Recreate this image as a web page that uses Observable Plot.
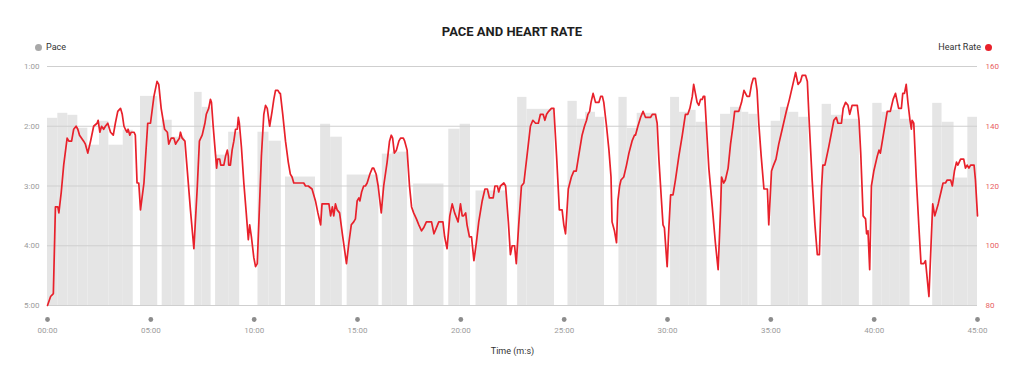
<!DOCTYPE html>
<html>
<head>
<meta charset="utf-8">
<script src="https://cdn.jsdelivr.net/npm/d3@7"></script>
<script src="https://cdn.jsdelivr.net/npm/@observablehq/plot@0.6"></script>
<style>
  body { margin: 0; background: #fff; font-family: Roboto, "Noto Sans", "DejaVu Sans", sans-serif; }
  #chart { position: relative; width: 1024px; height: 378px; overflow: hidden; }
  .title { position: absolute; top: 24px; left: 0; width: 1024px; text-align: center;
           font-size: 13px; font-weight: 700; color: #1e1e1e; line-height: 16px; }
  .legend { position: absolute; top: 41px; font-size: 9px; color: #333; line-height: 12px;
            display: flex; align-items: center; gap: 4px; }
  .legend .dot { width: 7px; height: 7px; border-radius: 50%; display: inline-block; }
  #chart svg { position: absolute; top: 56px; left: 0; }
</style>
</head>
<body>
<div id="chart">
  <div class="title">PACE AND HEART RATE</div>
  <div class="legend" style="left:35px"><span class="dot" style="background:#a8a8a8"></span>Pace</div>
  <div class="legend" style="right:32px">Heart Rate<span class="dot" style="background:#e8212b"></span></div>
</div>
<script>
// Pace per sample interval (seconds from start, pace in seconds per unit)
const barStart = [0, 30, 59, 88, 117, 151, 178, 220, 270, 333, 362, 427, 449, 488, 526, 611, 643, 691,
  793, 822, 870, 972, 1001, 1063, 1165, 1198, 1244, 1365, 1392, 1511, 1538, 1562, 1591,
  1659, 1683, 1712, 1809, 1835, 1862, 1883, 1954, 1983, 2016, 2036, 2101, 2128, 2152, 2181,
  2249, 2276, 2307, 2396, 2423, 2447, 2476, 2570, 2597, 2632, 2672];
const barEnd = [30, 59, 88, 117, 151, 178, 220, 249, 320, 362, 399, 449, 475, 526, 558, 643, 679, 778,
  822, 856, 962, 1001, 1045, 1151, 1198, 1228, 1335, 1392, 1472, 1538, 1562, 1591, 1617,
  1683, 1712, 1770, 1835, 1862, 1883, 1915, 1983, 2016, 2036, 2062, 2128, 2152, 2181, 2209,
  2276, 2307, 2357, 2423, 2447, 2476, 2504, 2597, 2632, 2672, 2700];
const barPace = [112, 107, 109, 122, 139, 115, 139, 124, 90, 114, 131, 86, 101, 149, 126, 126, 135, 171,
  118, 131, 169, 148, 146, 178, 123, 118, 185, 91, 103, 95, 113, 106, 111,
  91, 122, 107, 91, 106, 104, 116, 108, 101, 106, 108, 115, 101, 106, 111,
  98, 109, 113, 97, 106, 104, 113, 97, 116, 172, 111];

// Heart rate samples (seconds from start, bpm)
const hrTime = [0, 9, 17, 23, 30, 33, 40, 47, 57, 62, 70, 76, 83, 88, 93, 99, 105, 110, 117, 125, 134, 144, 147,
  152, 157, 163, 168, 175, 183, 191, 197, 204, 212, 217, 222, 226, 231, 234, 239, 243, 251, 255, 260, 265,
  270, 280, 291, 299, 309, 318, 323, 330, 340, 348, 352, 359, 367, 372, 377, 383, 386, 391, 399, 406, 415,
  425, 435, 441, 449, 457, 461, 468, 473, 476, 481, 486, 491, 494, 500, 503, 512, 517, 522, 525, 526, 531,
  536, 541, 546, 551, 554, 557, 563, 570, 577, 583, 587, 592, 599, 604, 609, 615, 621, 628, 633, 638, 645,
  652, 657, 662, 669, 674, 676, 683, 691, 699, 705, 710, 715, 737, 744, 749, 757, 768, 778, 785, 793, 797,
  802, 807, 817, 822, 827, 831, 836, 841, 848, 856, 862, 868, 875, 882, 889, 894, 899, 904, 907, 912, 918,
  923, 928, 936, 943, 947, 954, 960, 969, 976, 986, 993, 998, 1002, 1007, 1013, 1020, 1025, 1033, 1037,
  1044, 1051, 1057, 1063, 1071, 1078, 1086, 1092, 1100, 1115, 1122, 1129, 1136, 1143, 1148, 1153, 1160,
  1168, 1175, 1182, 1192, 1199, 1204, 1208, 1214, 1218, 1225, 1231, 1238, 1245, 1252, 1262, 1270, 1277,
  1283, 1294, 1299, 1306, 1310, 1315, 1325, 1330, 1338, 1344, 1349, 1356, 1361, 1368, 1376, 1383, 1393,
  1402, 1409, 1417, 1425, 1431, 1439, 1444, 1449, 1455, 1463, 1470, 1478, 1486, 1494, 1499, 1504, 1512,
  1521, 1528, 1535, 1542, 1552, 1559, 1565, 1569, 1574, 1578, 1584, 1591, 1601, 1606, 1611, 1615, 1623,
  1630, 1636, 1639, 1646, 1652, 1656, 1661, 1665, 1673, 1681, 1688, 1697, 1704, 1707, 1714, 1722, 1729,
  1736, 1751, 1756, 1765, 1770, 1775, 1782, 1787, 1791, 1799, 1804, 1809, 1816, 1823, 1833, 1843, 1852,
  1859, 1865, 1872, 1876, 1881, 1886, 1891, 1896, 1901, 1904, 1908, 1913, 1920, 1930, 1939, 1947, 1954,
  1957, 1963, 1968, 1976, 1983, 1990, 1995, 2007, 2015, 2022, 2031, 2038, 2044, 2049, 2055, 2060, 2065,
  2072, 2080, 2090, 2094, 2102, 2108, 2115, 2123, 2133, 2145, 2154, 2164, 2172, 2179, 2186, 2191, 2201,
  2206, 2212, 2220, 2228, 2235, 2241, 2247, 2251, 2257, 2268, 2283, 2290, 2295, 2305, 2310, 2317, 2324,
  2329, 2336, 2346, 2351, 2356, 2361, 2368, 2375, 2378, 2382, 2387, 2392, 2399, 2409, 2414, 2418, 2428,
  2438, 2447, 2455, 2462, 2471, 2479, 2483, 2488, 2493, 2498, 2504, 2508, 2510, 2515, 2522, 2530, 2536,
  2544, 2549, 2559, 2565, 2570, 2576, 2586, 2596, 2600, 2607, 2612, 2622, 2627, 2633, 2639, 2643, 2651,
  2660, 2665, 2670, 2675, 2680, 2690, 2694, 2700];
const hrBpm = [80, 83, 84, 113, 113, 111, 118, 127, 136, 135, 135, 139, 140, 139, 137, 136, 135, 134, 131, 135, 140, 141, 142,
  138, 140, 139, 140, 141, 138, 137, 141, 145, 146, 144, 140, 139, 138, 139, 137, 138, 138, 137, 121, 121,
  112, 121, 141, 141, 150, 155, 154, 146, 139, 138, 134, 136, 136, 134, 135, 136, 138, 136, 135, 125, 112,
  99, 120, 135, 137, 141, 144, 146, 149, 148, 140, 133, 126, 129, 129, 127, 127, 130, 132, 130, 127, 127,
  132, 135, 139, 139, 143, 141, 133, 121, 111, 102, 107, 103, 96, 93, 94, 112, 130, 144, 147, 146, 140,
  145, 149, 152, 152, 151, 151, 144, 135, 128, 124, 123, 121, 121, 121, 120, 120, 119, 115, 111, 107, 114,
  114, 114, 114, 110, 113, 110, 114, 112, 111, 104, 99, 94, 101, 107, 108, 109, 115, 116, 115, 118, 120,
  120, 121, 124, 126, 126, 124, 120, 111, 120, 128, 135, 137, 136, 131, 132, 135, 136, 136, 135,
  132, 120, 113, 111, 109, 107, 105, 106, 108, 108, 104, 106, 108, 108, 108, 103, 99,
  110, 114, 111, 108, 114, 110, 110, 111, 107, 103, 103, 95, 101, 108, 115, 119, 119,
  116, 116, 120, 120, 118, 120, 121, 120, 108, 97, 100, 100, 94, 107, 120, 121, 131,
  140, 142, 141, 141, 144, 144, 142, 144, 145, 146, 146, 130, 112, 112, 107, 104, 119,
  123, 125, 125, 130, 137, 140, 142, 144, 145, 148, 151, 148, 148, 150, 150, 148, 140,
  132, 123, 108, 105, 101, 115, 120, 122, 123, 127, 131, 135, 137, 137, 140, 143, 145,
  143, 143, 144, 144, 141, 129, 116, 107, 106, 93, 106, 117, 117, 122, 130, 137, 144,
  144, 146, 150, 154, 151, 148, 147, 149, 149, 150, 150, 140, 126, 113, 101, 92, 112,
  123, 121, 122, 126, 134, 140, 145, 145, 148, 152, 150, 150, 154, 156, 156, 152, 141,
  130, 119, 119, 107, 125, 127, 129, 134, 139, 145, 149, 154, 158, 154, 155, 157, 157,
  155, 140, 122, 107, 97, 97, 119, 127, 127, 133, 142, 143, 141, 141, 146, 148, 147,
  144, 147, 147, 147, 142, 131, 110, 109, 104, 105, 92, 120, 125, 130, 132, 131, 138,
  145, 145, 149, 151, 146, 146, 151, 151, 154, 148, 142, 139, 142, 141, 123, 106, 94,
  94, 95, 83, 100, 114, 110, 114, 119, 121, 121, 122, 122, 120, 125, 128, 127, 129,
  129, 126, 127, 126, 127, 127, 122, 110];

// Axis ticks
const paceTicks = [60, 120, 180, 240, 300];
const hrTicks = [160, 140, 120, 100, 80];
const timeTicks = [0, 300, 600, 900, 1200, 1500, 1800, 2100, 2400, 2700];

const bars = barStart.map((s, i) => ({start: s, end: barEnd[i], pace: barPace[i]}));
const heart = hrTime.map((t, i) => ({t, bpm: hrBpm[i]}));

// Heart rate shares the vertical scale with pace: 160 bpm ↔ 1:00, 80 bpm ↔ 5:00
const hrToY = (bpm) => 60 + (160 - bpm) * 3;
const yToHr = (y) => Math.round(160 - (y - 60) / 3);
const fmtPace = (s) => `${Math.floor(s / 60)}:${String(s % 60).padStart(2, "0")}`;
const fmtClock = (s) => `${String(Math.floor(s / 60)).padStart(2, "0")}:${String(s % 60).padStart(2, "0")}`;

const chart = Plot.plot({
  width: 1024,
  height: 322,
  marginTop: 10,
  marginBottom: 73,
  marginLeft: 47,
  marginRight: 47,
  style: {fontFamily: 'Roboto, "Noto Sans", sans-serif', fontSize: "8px", background: "#fff"},
  x: {domain: [0, 2700]},
  y: {domain: [300, 60]},
  marks: [
    Plot.rect(bars, {x1: "start", x2: "end", y1: 300, y2: "pace", fill: "#e5e5e5"}),
    Plot.gridY({ticks: paceTicks, stroke: "#cfcfcf", strokeOpacity: 1}),
    Plot.axisY({ticks: paceTicks, anchor: "left", tickSize: 0, tickPadding: 8,
      tickFormat: fmtPace, color: "#9b9b9b", label: null}),
    Plot.axisY({ticks: hrTicks.map(hrToY), anchor: "right", tickSize: 0, tickPadding: 8,
      tickFormat: yToHr, color: "#e8605f", label: null}),
    Plot.line(heart, {x: "t", y: (d) => hrToY(d.bpm), stroke: "#e8212b", strokeWidth: 1.7,
      strokeLinejoin: "round"}),
    Plot.dot(timeTicks, {x: (d) => d, frameAnchor: "bottom", dy: 14, r: 2.4, fill: "#8c8c8c", stroke: null}),
    Plot.axisX({ticks: timeTicks, tickSize: 0, tickPadding: 22, tickFormat: fmtClock,
      color: "#9b9b9b", label: null}),
    Plot.text(["Time (m:s)"], {frameAnchor: "bottom", dy: 48, fontSize: 9, fill: "#333"})
  ]
});

document.getElementById("chart").appendChild(chart);
</script>
</body>
</html>
